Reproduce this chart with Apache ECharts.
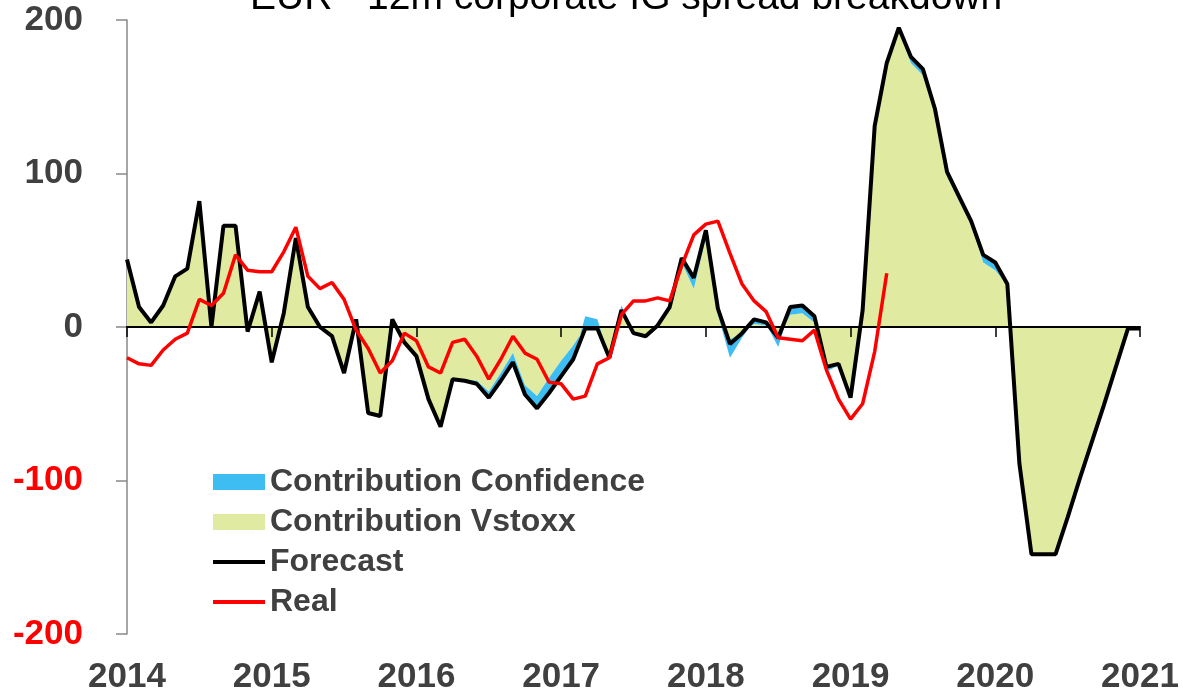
<!DOCTYPE html>
<html>
<head>
<meta charset="utf-8">
<script src="https://cdn.jsdelivr.net/npm/echarts@6/dist/echarts.min.js"></script>
<style>
  html, body { margin: 0; padding: 0; background: #fff; }
  #chart { width: 1183px; height: 695px; }
</style>
</head>
<body>
<div id="chart"></div>
<script>
// monthly points, Jan 2014 .. Jan 2021
var months = [];
for (var y = 2014; y <= 2021; y++) {
    for (var m = 1; m <= 12; m++) {
        months.push(y + '-' + (m < 10 ? '0' + m : m));
    }
}
months = months.slice(0, 85);

var yearLabels = ['2014', '2015', '2016', '2017', '2018', '2019', '2020', '2021'];

var forecast = [44, 13, 3, 14, 33, 38, 82, 0, 66, 66, -3, 23,
    -23, 9, 58, 13, 0, -6, -30, 5, -56, -58, 5, -10,
    -19, -47, -65, -34, -35, -37, -46, -35, -23, -44, -53, -43,
    -32, -21, -1, -1, -20, 11, -4, -6, 1, 13, 45, 32,
    63, 12, -11, -4, 5, 3, -7, 13, 14, 7, -26, -24,
    -46, 11, 131, 172, 195, 176, 168, 142, 101, 85, 69, 47,
    42, 28, -89, -148, -148, -148, -124, -99, -75, -51, -26, -1,
    -1];

var real = [-20, -24, -25, -15, -8, -4, 18, 14, 22, 47, 37, 36,
    36, 49, 65, 33, 25, 29, 18, -2, -14, -30, -22, -4,
    -9, -26, -30, -10, -8, -19, -34, -21, -6, -17, -21, -36,
    -37, -47, -45, -24, -20, 8, 17, 17, 19, 17, 40, 60,
    67, 69, 48, 28, 17, 10, -7, -8, -9, -2, -28, -47,
    -60, -50, -16, 35];

var vstoxx = [44, 13, 3, 14, 32, 38, 82, 0, 65, 65, -3, 22,
    -23, 9, 58, 13, 0, -6, -30, 5, -56, -58, 5, -10,
    -19, -47, -65, -34, -34, -35, -42, -30, -17, -38, -45, -33,
    -22, -12, 0, 0, -20, 11, -4, -6, 1, 12, 42, 25,
    58, 10, -8, -4, 2, 1, -7, 8, 9, 3, -26, -24,
    -46, 11, 131, 171, 194, 172, 164, 140, 98, 82, 67, 42,
    37, 27, -89, -148, -148, -148, -124, -99, -75, -51, -26, -1,
    -1];

var confidence = [0, 0, 0, 0, 2, 0, 0, 0, 2, 2, 0, 2,
    0, 0, 0, 0, 0, 0, 0, 0, 0, 0, 0, 0,
    0, 0, 0, 0, -1, -2, -4, -5, -6, -6, -8, -10,
    -10, -9, 7, 5, 0, 3, 0, 0, 0, 1, 3, 6,
    5, -2, -12, -3, 2, 1, -6, 4, 4, 3, -3, -1,
    0, 0, 0, 0, 0, 3, 3, 1, 2, 2, 1, 4,
    4, 0, 0, 0, 0, 0, 0, 0, 0, 0, 0, 0,
    0];

var FONT = 'Liberation Sans, Arial, sans-serif';
var GREEN = '#e0eaa0';
var BLUE = '#3dbdf2';

var myChart = echarts.init(document.getElementById('chart'));
var option = {
    animation: false,
    title: {
        text: 'EUR - 12m corporate IG spread breakdown',
        left: 250,
        top: -21,
        padding: 0,
        textStyle: { fontFamily: FONT, fontSize: 39, fontWeight: 'normal', color: '#000' }
    },
    legend: {
        orient: 'vertical',
        left: 211,
        top: 466,
        padding: 0,
        itemGap: 8,
        itemWidth: 52,
        itemHeight: 16,
        textStyle: { fontFamily: FONT, fontSize: 32, fontWeight: 'bold', color: '#404040' },
        data: [
            { name: 'Contribution Confidence', icon: 'rect' },
            { name: 'Contribution Vstoxx', icon: 'rect' },
            { name: 'Forecast', itemStyle: { opacity: 0 }, lineStyle: { width: 4, color: '#000' } },
            { name: 'Real', itemStyle: { opacity: 0 }, lineStyle: { width: 4, color: '#ff0000' } }
        ]
    },
    grid: { left: 127, right: 43, top: 20, bottom: 61 },
    xAxis: [
        {
            type: 'category',
            data: months,
            boundaryGap: false,
            position: 'bottom',
            axisLine: { show: false, onZero: false },
            axisTick: { show: false },
            splitLine: { show: false },
            axisLabel: {
                interval: 11,
                margin: 26,
                fontFamily: FONT,
                fontSize: 35,
                fontWeight: 'bold',
                color: '#404040',
                formatter: function (v, i) { return yearLabels[Math.round(i / 12)]; }
            }
        },
        {
            type: 'category',
            data: months,
            boundaryGap: false,
            position: 'bottom',
            z: 3,
            axisLine: { show: true, onZero: true, lineStyle: { color: '#000', width: 2 } },
            axisTick: { show: true, interval: 11, inside: false, length: 10, lineStyle: { color: '#000', width: 1.5 } },
            axisLabel: { show: false, interval: 11 },
            splitLine: { show: false }
        }
    ],
    yAxis: {
        type: 'value',
        min: -200,
        max: 200,
        interval: 100,
        axisLine: { show: true, onZero: false, lineStyle: { color: '#898989', width: 1.5 } },
        axisTick: { show: true, inside: false, length: 11, lineStyle: { color: '#898989', width: 1.5 } },
        splitLine: { show: false },
        axisLabel: {
            margin: 44,
            fontFamily: FONT,
            fontSize: 35,
            fontWeight: 'bold',
            color: function (v) { return Number(v) < 0 ? '#ff0000' : '#404040'; }
        }
    },
    series: [
        {
            name: 'Contribution Vstoxx',
            type: 'line',
            stack: 'contrib',
            stackStrategy: 'all',
            data: vstoxx,
            symbol: 'none',
            z: 2,
            itemStyle: { color: GREEN },
            lineStyle: { width: 0, color: GREEN },
            areaStyle: { color: GREEN, opacity: 1 }
        },
        {
            name: 'Contribution Confidence',
            type: 'line',
            stack: 'contrib',
            stackStrategy: 'all',
            data: confidence,
            symbol: 'none',
            z: 2,
            itemStyle: { color: BLUE },
            lineStyle: { width: 0, color: BLUE },
            areaStyle: { color: BLUE, opacity: 1 }
        },
        {
            name: 'Forecast',
            type: 'line',
            data: forecast,
            symbol: 'none',
            z: 4,
            itemStyle: { color: '#000' },
            lineStyle: { color: '#000', width: 4 }
        },
        {
            name: 'Real',
            type: 'line',
            data: real,
            symbol: 'none',
            z: 5,
            itemStyle: { color: '#ff0000' },
            lineStyle: { color: '#ff0000', width: 3.5 }
        }
    ]
};

myChart.setOption(option);
</script>
</body>
</html>
